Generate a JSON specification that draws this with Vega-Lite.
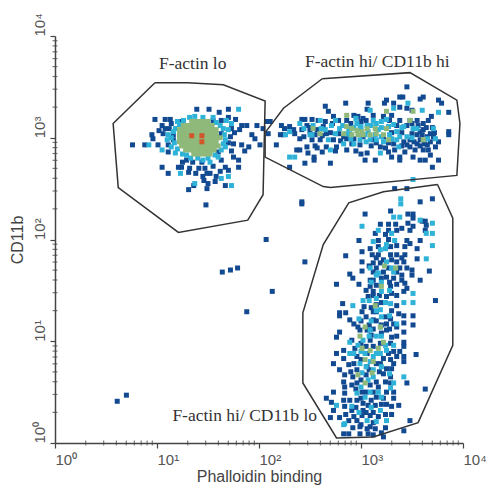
{"$schema":"https://vega.github.io/schema/vega-lite/v6.json","width":408,"height":407,"autosize":"none","padding":{"left":55,"top":36,"right":26,"bottom":44},"background":"white","config":{"view":{"stroke":null}},
"datasets":{
"minor":[{"v":0.301},{"v":0.477},{"v":0.602},{"v":0.699},{"v":0.778},{"v":0.845},{"v":0.903},{"v":0.954},{"v":1.301},{"v":1.477},{"v":1.602},{"v":1.699},{"v":1.778},{"v":1.845},{"v":1.903},{"v":1.954},{"v":2.301},{"v":2.477},{"v":2.602},{"v":2.699},{"v":2.778},{"v":2.845},{"v":2.903},{"v":2.954},{"v":3.301},{"v":3.477},{"v":3.602},{"v":3.699},{"v":3.778},{"v":3.845},{"v":3.903},{"v":3.954}],
"gates":[
{"g":"lo","o":1,"x":0.98,"y":3.54},{"g":"lo","o":2,"x":1.30,"y":3.54},{"g":"lo","o":3,"x":1.65,"y":3.52},{"g":"lo","o":4,"x":2.06,"y":3.36},{"g":"lo","o":5,"x":2.04,"y":2.44},{"g":"lo","o":6,"x":1.89,"y":2.19},{"g":"lo","o":7,"x":1.21,"y":2.07},{"g":"lo","o":8,"x":0.62,"y":2.51},{"g":"lo","o":9,"x":0.57,"y":3.14},{"g":"lo","o":10,"x":0.98,"y":3.54},
{"g":"hihi","o":1,"x":2.62,"y":3.58},{"g":"hihi","o":2,"x":3.48,"y":3.64},{"g":"hihi","o":3,"x":3.94,"y":3.37},{"g":"hihi","o":4,"x":3.97,"y":3.14},{"g":"hihi","o":5,"x":3.94,"y":2.63},{"g":"hihi","o":6,"x":2.70,"y":2.51},{"g":"hihi","o":7,"x":2.63,"y":2.52},{"g":"hihi","o":8,"x":2.06,"y":2.81},{"g":"hihi","o":9,"x":2.06,"y":3.05},{"g":"hihi","o":10,"x":2.24,"y":3.29},{"g":"hihi","o":11,"x":2.62,"y":3.58},
{"g":"hilo","o":1,"x":3.75,"y":2.54},{"g":"hilo","o":2,"x":3.90,"y":2.21},{"g":"hilo","o":3,"x":3.90,"y":0.96},{"g":"hilo","o":4,"x":3.56,"y":0.20},{"g":"hilo","o":5,"x":3.12,"y":0.06},{"g":"hilo","o":6,"x":2.76,"y":0.05},{"g":"hilo","o":7,"x":2.43,"y":0.59},{"g":"hilo","o":8,"x":2.43,"y":1.28},{"g":"hilo","o":9,"x":2.63,"y":1.95},{"g":"hilo","o":10,"x":2.88,"y":2.36},{"g":"hilo","o":11,"x":3.22,"y":2.47},{"g":"hilo","o":12,"x":3.75,"y":2.54}],
"labels":[{"t":"F-actin lo","x":1.35,"y":3.72},{"t":"F-actin hi/ CD11b hi","x":3.16,"y":3.74},{"t":"F-actin hi/ CD11b lo","x":1.86,"y":0.27}],
"points":[
{"x":1.05,"y":3.12,"c":"low"},{"x":1.02,"y":3.07,"c":"low"},{"x":1.12,"y":3.09,"c":"low"},{"x":1.35,"y":2.76,"c":"low"},{"x":1.38,"y":2.65,"c":"low"},{"x":1.55,"y":2.72,"c":"low"},{"x":1.25,"y":2.76,"c":"low"},{"x":1.47,"y":2.70,"c":"low"},{"x":1.58,"y":2.62,"c":"low"},{"x":1.45,"y":2.62,"c":"low"},{"x":1.70,"y":2.95,"c":"low"},{"x":1.76,"y":3.05,"c":"low"},{"x":1.75,"y":2.94,"c":"low"},{"x":1.70,"y":3.20,"c":"low"},{"x":1.77,"y":3.18,"c":"low"},
{"x":2.50,"y":3.10,"c":"low"},{"x":2.55,"y":3.03,"c":"low"},{"x":2.62,"y":3.02,"c":"low"},{"x":2.70,"y":3.05,"c":"low"},{"x":2.72,"y":3.14,"c":"low"},{"x":2.78,"y":3.04,"c":"low"},{"x":2.80,"y":2.97,"c":"low"},{"x":2.86,"y":2.99,"c":"low"},{"x":2.90,"y":3.14,"c":"low"},{"x":3.00,"y":3.16,"c":"low"},{"x":3.05,"y":3.17,"c":"low"},{"x":3.10,"y":2.92,"c":"low"},{"x":3.15,"y":2.95,"c":"low"},{"x":3.19,"y":2.91,"c":"low"},{"x":3.27,"y":2.95,"c":"low"},{"x":3.30,"y":3.05,"c":"low"},{"x":3.35,"y":3.12,"c":"low"},{"x":3.40,"y":3.05,"c":"low"},{"x":3.40,"y":2.92,"c":"low"},{"x":3.45,"y":3.12,"c":"low"},{"x":3.50,"y":3.04,"c":"low"},{"x":3.52,"y":2.96,"c":"low"},{"x":3.58,"y":2.92,"c":"low"},{"x":3.60,"y":3.03,"c":"low"},{"x":3.64,"y":3.10,"c":"low"},{"x":3.70,"y":3.10,"c":"low"},{"x":3.72,"y":3.05,"c":"low"},{"x":3.62,"y":2.94,"c":"low"},{"x":3.66,"y":2.88,"c":"low"},{"x":3.56,"y":3.12,"c":"low"},{"x":3.28,"y":3.17,"c":"low"},{"x":2.55,"y":2.92,"c":"low"},{"x":2.62,"y":2.86,"c":"low"},{"x":2.75,"y":2.87,"c":"low"},{"x":2.95,"y":2.87,"c":"low"},{"x":3.00,"y":2.84,"c":"low"},{"x":3.45,"y":2.93,"c":"low"},{"x":3.50,"y":3.14,"c":"low"},
{"x":3.24,"y":2.05,"c":"low"},{"x":3.40,"y":2.11,"c":"low"},{"x":3.15,"y":1.82,"c":"low"},{"x":3.22,"y":1.80,"c":"low"},{"x":3.30,"y":1.80,"c":"low"},{"x":3.40,"y":1.82,"c":"low"},{"x":3.08,"y":1.74,"c":"low"},{"x":3.15,"y":1.72,"c":"low"},{"x":3.22,"y":1.68,"c":"low"},{"x":3.35,"y":1.68,"c":"low"},{"x":3.40,"y":1.65,"c":"low"},{"x":3.28,"y":1.58,"c":"low"},{"x":3.35,"y":1.56,"c":"low"},{"x":3.15,"y":1.55,"c":"low"},{"x":3.20,"y":1.62,"c":"low"},{"x":3.40,"y":1.60,"c":"low"},{"x":3.05,"y":1.50,"c":"low"},{"x":3.18,"y":1.45,"c":"low"},{"x":3.25,"y":1.44,"c":"low"},{"x":3.30,"y":1.47,"c":"low"},{"x":3.15,"y":1.36,"c":"low"},{"x":3.20,"y":1.38,"c":"low"},{"x":3.10,"y":1.33,"c":"low"},{"x":3.30,"y":1.30,"c":"low"},{"x":3.35,"y":1.35,"c":"low"},{"x":3.05,"y":1.24,"c":"low"},{"x":3.15,"y":1.20,"c":"low"},{"x":3.25,"y":1.17,"c":"low"},{"x":3.08,"y":1.16,"c":"low"},{"x":3.00,"y":1.20,"c":"low"},{"x":3.12,"y":1.12,"c":"low"},{"x":3.28,"y":1.12,"c":"low"},{"x":3.20,"y":1.08,"c":"low"},{"x":3.10,"y":1.06,"c":"low"},{"x":3.30,"y":1.04,"c":"low"},{"x":3.00,"y":0.98,"c":"low"},{"x":3.05,"y":0.95,"c":"low"},{"x":3.12,"y":0.95,"c":"low"},{"x":3.27,"y":0.88,"c":"low"},{"x":3.32,"y":0.90,"c":"low"},{"x":3.00,"y":0.82,"c":"low"},{"x":3.15,"y":0.78,"c":"low"},{"x":3.22,"y":0.83,"c":"low"},{"x":3.08,"y":0.72,"c":"low"},{"x":3.18,"y":0.70,"c":"low"},{"x":3.30,"y":0.73,"c":"low"},{"x":2.90,"y":0.70,"c":"low"},{"x":2.92,"y":0.65,"c":"low"},{"x":3.00,"y":0.62,"c":"low"},{"x":3.05,"y":0.67,"c":"low"},{"x":3.15,"y":0.60,"c":"low"},{"x":3.24,"y":0.60,"c":"low"},{"x":2.95,"y":0.53,"c":"low"},{"x":3.05,"y":0.50,"c":"low"},{"x":3.12,"y":0.50,"c":"low"},{"x":3.25,"y":0.50,"c":"low"},{"x":3.00,"y":0.44,"c":"low"},{"x":3.10,"y":0.42,"c":"low"},{"x":3.20,"y":0.38,"c":"low"},{"x":3.25,"y":0.38,"c":"low"},{"x":2.95,"y":0.35,"c":"low"},{"x":3.05,"y":0.30,"c":"low"},{"x":3.12,"y":0.30,"c":"low"},{"x":3.24,"y":0.28,"c":"low"},{"x":3.30,"y":0.28,"c":"low"},{"x":2.85,"y":0.28,"c":"low"},{"x":3.00,"y":0.18,"c":"low"},{"x":3.12,"y":0.20,"c":"low"},{"x":2.92,"y":0.15,"c":"low"},{"x":3.20,"y":0.10,"c":"low"},
{"x":0.61,"y":0.41,"c":"low"},{"x":0.70,"y":0.47,"c":"low"},{"x":2.07,"y":2.00,"c":"low"},{"x":2.13,"y":1.49,"c":"low"},{"x":1.88,"y":1.29,"c":"low"},{"x":1.64,"y":1.68,"c":"low"},{"x":1.72,"y":1.70,"c":"low"},{"x":1.79,"y":1.72,"c":"low"},
{"x":0.76,"y":2.93,"c":"low"},{"x":0.88,"y":2.93,"c":"low"},{"x":0.98,"y":3.18,"c":"low"},{"x":1.08,"y":3.18,"c":"low"},{"x":1.13,"y":3.18,"c":"low"},{"x":1.14,"y":3.14,"c":"low"},{"x":1.08,"y":3.09,"c":"low"},{"x":1.06,"y":3.04,"c":"low"},{"x":0.95,"y":3.03,"c":"low"},{"x":0.96,"y":2.99,"c":"low"},{"x":1.01,"y":2.93,"c":"low"},{"x":1.11,"y":2.86,"c":"low"},{"x":1.11,"y":2.93,"c":"low"},{"x":1.39,"y":3.28,"c":"low"},{"x":1.51,"y":3.28,"c":"low"},{"x":1.61,"y":3.25,"c":"low"},{"x":1.70,"y":3.28,"c":"low"},{"x":1.63,"y":3.17,"c":"low"},{"x":1.55,"y":3.17,"c":"low"},{"x":1.24,"y":3.16,"c":"low"},{"x":1.73,"y":3.09,"c":"low"},{"x":1.83,"y":3.12,"c":"low"},{"x":1.88,"y":3.12,"c":"low"},{"x":1.98,"y":3.12,"c":"low"},{"x":2.04,"y":3.09,"c":"low"},{"x":2.09,"y":3.16,"c":"low"},{"x":1.93,"y":3.03,"c":"low"},{"x":1.96,"y":2.99,"c":"low"},{"x":1.83,"y":2.93,"c":"low"},{"x":1.90,"y":2.91,"c":"low"},{"x":1.86,"y":2.87,"c":"low"},{"x":1.73,"y":2.87,"c":"low"},{"x":1.75,"y":2.81,"c":"low"},{"x":1.63,"y":2.78,"c":"low"},{"x":1.80,"y":2.78,"c":"low"},{"x":1.80,"y":2.71,"c":"low"},{"x":1.67,"y":2.71,"c":"low"},{"x":1.70,"y":2.68,"c":"low"},{"x":1.62,"y":2.67,"c":"low"},{"x":1.52,"y":2.65,"c":"low"},{"x":1.49,"y":2.65,"c":"low"},{"x":1.44,"y":2.76,"c":"low"},{"x":1.41,"y":2.70,"c":"low"},{"x":1.32,"y":2.70,"c":"low"},{"x":1.24,"y":2.71,"c":"low"},{"x":1.21,"y":2.71,"c":"low"},{"x":1.29,"y":2.78,"c":"low"},{"x":1.05,"y":2.71,"c":"low"},{"x":1.11,"y":2.65,"c":"low"},{"x":1.31,"y":2.66,"c":"low"},{"x":1.46,"y":2.58,"c":"low"},{"x":1.50,"y":2.55,"c":"low"},{"x":1.57,"y":2.57,"c":"low"},{"x":1.49,"y":2.50,"c":"low"},{"x":1.31,"y":2.49,"c":"low"},{"x":1.36,"y":2.53,"c":"low"},{"x":1.67,"y":2.53,"c":"low"},{"x":1.48,"y":2.34,"c":"low"},{"x":1.60,"y":2.86,"c":"low"},{"x":1.16,"y":2.98,"c":"low"},{"x":1.16,"y":3.03,"c":"low"},{"x":1.63,"y":3.04,"c":"low"},{"x":1.72,"y":3.01,"c":"low"},{"x":2.01,"y":2.93,"c":"low"},{"x":1.81,"y":3.08,"c":"low"},
{"x":3.45,"y":3.50,"c":"low"},{"x":3.41,"y":3.40,"c":"low"},{"x":3.38,"y":3.40,"c":"low"},{"x":3.61,"y":3.40,"c":"low"},{"x":3.58,"y":3.38,"c":"low"},{"x":3.76,"y":3.37,"c":"low"},{"x":3.79,"y":3.34,"c":"low"},{"x":3.25,"y":3.37,"c":"low"},{"x":3.23,"y":3.34,"c":"low"},{"x":3.32,"y":3.34,"c":"low"},{"x":3.07,"y":3.34,"c":"low"},{"x":2.85,"y":3.34,"c":"low"},{"x":2.65,"y":3.31,"c":"low"},{"x":2.68,"y":3.26,"c":"low"},{"x":3.06,"y":3.28,"c":"low"},{"x":3.38,"y":3.30,"c":"low"},{"x":3.45,"y":3.29,"c":"low"},{"x":3.50,"y":3.27,"c":"low"},{"x":3.86,"y":3.25,"c":"low"},{"x":3.69,"y":3.21,"c":"low"},{"x":3.66,"y":3.17,"c":"low"},{"x":2.93,"y":3.22,"c":"low"},{"x":2.97,"y":3.21,"c":"low"},{"x":2.73,"y":3.21,"c":"low"},{"x":2.78,"y":3.17,"c":"low"},{"x":2.42,"y":3.18,"c":"low"},{"x":2.45,"y":3.18,"c":"low"},{"x":2.52,"y":3.18,"c":"low"},{"x":2.58,"y":3.17,"c":"low"},{"x":2.65,"y":3.16,"c":"low"},{"x":2.08,"y":3.16,"c":"low"},{"x":2.11,"y":3.16,"c":"low"},{"x":2.22,"y":3.12,"c":"low"},{"x":2.25,"y":3.09,"c":"low"},{"x":2.30,"y":3.11,"c":"low"},{"x":2.34,"y":3.08,"c":"low"},{"x":2.09,"y":3.04,"c":"low"},{"x":2.21,"y":3.03,"c":"low"},{"x":2.24,"y":3.03,"c":"low"},{"x":2.35,"y":3.04,"c":"low"},{"x":2.40,"y":2.99,"c":"low"},{"x":2.44,"y":3.01,"c":"low"},{"x":2.50,"y":3.06,"c":"low"},{"x":2.57,"y":3.08,"c":"low"},{"x":2.63,"y":3.11,"c":"low"},{"x":2.17,"y":2.93,"c":"low"},{"x":2.37,"y":2.88,"c":"low"},{"x":2.40,"y":2.88,"c":"low"},{"x":2.48,"y":2.85,"c":"low"},{"x":2.54,"y":2.81,"c":"low"},{"x":2.54,"y":2.78,"c":"low"},{"x":2.70,"y":2.75,"c":"low"},{"x":2.45,"y":2.75,"c":"low"},{"x":2.30,"y":2.71,"c":"low"},{"x":2.86,"y":2.88,"c":"low"},{"x":2.91,"y":2.94,"c":"low"},{"x":2.99,"y":2.93,"c":"low"},{"x":3.04,"y":2.78,"c":"low"},{"x":3.14,"y":2.78,"c":"low"},{"x":3.06,"y":2.85,"c":"low"},{"x":3.24,"y":2.90,"c":"low"},{"x":3.27,"y":2.86,"c":"low"},{"x":3.30,"y":2.81,"c":"low"},{"x":3.38,"y":2.81,"c":"low"},{"x":3.38,"y":2.78,"c":"low"},{"x":3.51,"y":2.81,"c":"low"},{"x":3.58,"y":2.78,"c":"low"},{"x":3.63,"y":2.78,"c":"low"},{"x":3.68,"y":2.83,"c":"low"},{"x":3.76,"y":2.78,"c":"low"},{"x":3.70,"y":2.71,"c":"low"},{"x":3.86,"y":3.06,"c":"low"},{"x":3.86,"y":3.03,"c":"low"},{"x":3.76,"y":2.96,"c":"low"},{"x":3.73,"y":2.91,"c":"low"},{"x":3.65,"y":2.93,"c":"low"},{"x":3.58,"y":2.98,"c":"low"},{"x":3.55,"y":3.03,"c":"low"},{"x":3.61,"y":3.08,"c":"low"},{"x":3.68,"y":3.04,"c":"low"},{"x":3.48,"y":2.91,"c":"low"},{"x":3.42,"y":2.96,"c":"low"},{"x":3.32,"y":2.94,"c":"low"},{"x":3.22,"y":3.01,"c":"low"},{"x":3.12,"y":2.98,"c":"low"},{"x":3.02,"y":3.01,"c":"low"},{"x":2.93,"y":2.99,"c":"low"},{"x":2.83,"y":3.01,"c":"low"},{"x":2.73,"y":2.98,"c":"low"},{"x":2.66,"y":3.04,"c":"low"},{"x":2.60,"y":2.98,"c":"low"},{"x":2.52,"y":2.98,"c":"low"},{"x":3.61,"y":3.14,"c":"low"},{"x":3.55,"y":3.17,"c":"low"},{"x":3.48,"y":3.17,"c":"low"},{"x":3.38,"y":3.17,"c":"low"},{"x":3.30,"y":3.22,"c":"low"},{"x":3.22,"y":3.21,"c":"low"},{"x":3.12,"y":3.22,"c":"low"},{"x":3.02,"y":3.19,"c":"low"},{"x":2.86,"y":3.17,"c":"low"},{"x":3.58,"y":3.06,"c":"low"},{"x":3.65,"y":3.01,"c":"low"},{"x":3.71,"y":3.01,"c":"low"},{"x":3.55,"y":2.94,"c":"low"},{"x":3.61,"y":2.88,"c":"low"},{"x":3.68,"y":2.96,"c":"low"},{"x":3.48,"y":2.98,"c":"low"},{"x":3.53,"y":2.88,"c":"low"},{"x":3.43,"y":2.86,"c":"low"},{"x":3.33,"y":2.88,"c":"low"},{"x":2.47,"y":3.12,"c":"low"},{"x":2.42,"y":3.08,"c":"low"},{"x":2.47,"y":2.91,"c":"low"},{"x":2.57,"y":2.90,"c":"low"},{"x":2.76,"y":2.91,"c":"low"},{"x":2.66,"y":2.91,"c":"low"},
{"x":2.42,"y":2.37,"c":"low"},{"x":2.42,"y":2.35,"c":"low"},{"x":2.45,"y":1.78,"c":"low"},{"x":3.04,"y":2.25,"c":"low"},{"x":3.29,"y":2.28,"c":"low"},{"x":3.58,"y":2.37,"c":"low"},{"x":3.70,"y":2.40,"c":"low"},{"x":3.33,"y":2.50,"c":"low"},{"x":3.45,"y":2.50,"c":"low"},{"x":3.46,"y":2.25,"c":"low"},{"x":3.51,"y":2.25,"c":"low"},{"x":3.51,"y":2.21,"c":"low"},{"x":3.60,"y":2.18,"c":"low"},{"x":3.63,"y":2.18,"c":"low"},{"x":3.64,"y":2.14,"c":"low"},{"x":3.63,"y":2.09,"c":"low"},{"x":3.19,"y":2.15,"c":"low"},{"x":3.27,"y":2.15,"c":"low"},{"x":3.34,"y":2.15,"c":"low"},{"x":3.46,"y":2.16,"c":"low"},{"x":3.51,"y":2.13,"c":"low"},{"x":3.48,"y":2.09,"c":"low"},{"x":3.14,"y":2.06,"c":"low"},{"x":3.27,"y":2.09,"c":"low"},{"x":3.35,"y":2.09,"c":"low"},{"x":2.98,"y":1.99,"c":"low"},{"x":3.17,"y":1.99,"c":"low"},{"x":3.27,"y":2.00,"c":"low"},{"x":3.58,"y":1.99,"c":"low"},{"x":3.45,"y":1.99,"c":"low"},{"x":3.48,"y":1.96,"c":"low"},{"x":3.09,"y":1.91,"c":"low"},{"x":3.17,"y":1.93,"c":"low"},{"x":3.29,"y":1.93,"c":"low"},{"x":3.35,"y":1.94,"c":"low"},{"x":3.43,"y":1.93,"c":"low"},{"x":3.01,"y":1.88,"c":"low"},{"x":2.85,"y":1.84,"c":"low"},{"x":3.01,"y":1.78,"c":"low"},{"x":3.11,"y":1.85,"c":"low"},{"x":3.17,"y":1.85,"c":"low"},{"x":3.29,"y":1.85,"c":"low"},{"x":3.35,"y":1.85,"c":"low"},{"x":3.43,"y":1.85,"c":"low"},{"x":3.55,"y":1.91,"c":"low"},{"x":3.55,"y":1.81,"c":"low"},{"x":3.12,"y":1.77,"c":"low"},{"x":3.19,"y":1.77,"c":"low"},{"x":3.35,"y":1.78,"c":"low"},{"x":3.42,"y":1.78,"c":"low"},{"x":3.01,"y":1.69,"c":"low"},{"x":3.12,"y":1.68,"c":"low"},{"x":3.27,"y":1.72,"c":"low"},{"x":3.38,"y":1.72,"c":"low"},{"x":3.45,"y":1.72,"c":"low"},{"x":3.50,"y":1.70,"c":"low"},{"x":3.67,"y":1.69,"c":"low"},{"x":2.89,"y":1.66,"c":"low"},{"x":2.92,"y":1.62,"c":"low"},{"x":2.76,"y":1.56,"c":"low"},{"x":2.98,"y":1.56,"c":"low"},{"x":3.09,"y":1.60,"c":"low"},{"x":3.12,"y":1.60,"c":"low"},{"x":3.25,"y":1.63,"c":"low"},{"x":3.32,"y":1.62,"c":"low"},{"x":3.50,"y":1.65,"c":"low"},{"x":3.58,"y":1.60,"c":"low"},{"x":3.43,"y":1.57,"c":"low"},{"x":3.09,"y":1.54,"c":"low"},{"x":3.12,"y":1.49,"c":"low"},{"x":3.29,"y":1.54,"c":"low"},{"x":3.45,"y":1.52,"c":"low"},{"x":3.07,"y":1.44,"c":"low"},{"x":3.12,"y":1.45,"c":"low"},{"x":3.35,"y":1.45,"c":"low"},{"x":3.42,"y":1.49,"c":"low"},{"x":3.73,"y":1.40,"c":"low"},{"x":2.82,"y":1.37,"c":"low"},{"x":3.03,"y":1.34,"c":"low"},{"x":3.01,"y":1.29,"c":"low"},{"x":2.79,"y":1.28,"c":"low"},{"x":2.79,"y":1.25,"c":"low"},{"x":2.85,"y":1.28,"c":"low"},{"x":3.12,"y":1.29,"c":"low"},{"x":3.15,"y":1.29,"c":"low"},{"x":3.51,"y":1.25,"c":"low"},{"x":3.42,"y":1.25,"c":"low"},{"x":2.89,"y":1.21,"c":"low"},{"x":2.93,"y":1.17,"c":"low"},{"x":2.97,"y":1.14,"c":"low"},{"x":3.12,"y":1.21,"c":"low"},{"x":3.24,"y":1.24,"c":"low"},{"x":3.29,"y":1.22,"c":"low"},{"x":3.37,"y":1.27,"c":"low"},{"x":3.51,"y":1.16,"c":"low"},{"x":3.42,"y":1.18,"c":"low"},{"x":3.32,"y":1.17,"c":"low"},{"x":3.20,"y":1.16,"c":"low"},{"x":3.06,"y":1.11,"c":"low"},
{"x":3.42,"y":1.09,"c":"low"},{"x":2.79,"y":1.09,"c":"low"},{"x":2.76,"y":1.04,"c":"low"},{"x":3.35,"y":1.05,"c":"low"},{"x":3.42,"y":0.99,"c":"low"},{"x":3.42,"y":0.95,"c":"low"},{"x":3.38,"y":0.90,"c":"low"},{"x":3.54,"y":0.87,"c":"low"},{"x":2.83,"y":0.91,"c":"low"},{"x":2.76,"y":0.88,"c":"low"},{"x":2.73,"y":0.78,"c":"low"},{"x":2.83,"y":0.83,"c":"low"},{"x":3.42,"y":0.85,"c":"low"},{"x":3.42,"y":0.80,"c":"low"},{"x":2.91,"y":1.01,"c":"low"},{"x":2.94,"y":0.93,"c":"low"},{"x":2.88,"y":0.77,"c":"low"},{"x":2.93,"y":0.78,"c":"low"},{"x":2.79,"y":0.72,"c":"low"},{"x":2.84,"y":0.67,"c":"low"},{"x":2.83,"y":0.60,"c":"low"},{"x":2.84,"y":0.55,"c":"low"},{"x":3.35,"y":0.85,"c":"low"},{"x":3.32,"y":0.78,"c":"low"},{"x":3.25,"y":0.73,"c":"low"},{"x":3.22,"y":0.68,"c":"low"},{"x":3.29,"y":0.65,"c":"low"},{"x":3.45,"y":0.59,"c":"low"},{"x":3.63,"y":0.53,"c":"low"},{"x":2.91,"y":0.57,"c":"low"},{"x":2.96,"y":0.59,"c":"low"},{"x":2.73,"y":0.50,"c":"low"},{"x":2.66,"y":0.44,"c":"low"},{"x":2.71,"y":0.40,"c":"low"},{"x":2.73,"y":0.32,"c":"low"},{"x":2.84,"y":0.49,"c":"low"},{"x":2.83,"y":0.42,"c":"low"},{"x":2.84,"y":0.36,"c":"low"},{"x":2.89,"y":0.42,"c":"low"},{"x":3.01,"y":0.50,"c":"low"},{"x":3.09,"y":0.57,"c":"low"},{"x":3.17,"y":0.55,"c":"low"},{"x":3.29,"y":0.59,"c":"low"},{"x":3.32,"y":0.50,"c":"low"},{"x":3.22,"y":0.44,"c":"low"},{"x":3.32,"y":0.44,"c":"low"},{"x":3.37,"y":0.37,"c":"low"},{"x":3.30,"y":0.36,"c":"low"},{"x":3.14,"y":0.37,"c":"low"},{"x":3.02,"y":0.32,"c":"low"},{"x":2.91,"y":0.32,"c":"low"},{"x":2.70,"y":0.25,"c":"low"},{"x":2.79,"y":0.25,"c":"low"},{"x":2.88,"y":0.22,"c":"low"},{"x":2.96,"y":0.22,"c":"low"},{"x":3.06,"y":0.14,"c":"low"},{"x":2.99,"y":0.16,"c":"low"},{"x":3.09,"y":0.16,"c":"low"},{"x":3.14,"y":0.14,"c":"low"},{"x":3.24,"y":0.15,"c":"low"},{"x":3.48,"y":0.22,"c":"low"},{"x":3.42,"y":0.12,"c":"low"},{"x":2.83,"y":0.09,"c":"low"},{"x":2.88,"y":0.09,"c":"low"},{"x":2.99,"y":0.09,"c":"low"},{"x":3.07,"y":0.09,"c":"low"},{"x":3.22,"y":0.06,"c":"low"},{"x":3.12,"y":0.08,"c":"low"},{"x":3.01,"y":0.27,"c":"low"},{"x":2.93,"y":0.26,"c":"low"},{"x":3.02,"y":0.39,"c":"low"},{"x":2.96,"y":0.42,"c":"low"},{"x":3.09,"y":0.27,"c":"low"},{"x":3.17,"y":0.26,"c":"low"},{"x":3.07,"y":0.37,"c":"low"},{"x":3.15,"y":0.45,"c":"low"},{"x":2.96,"y":0.72,"c":"low"},{"x":3.06,"y":0.75,"c":"low"},{"x":3.19,"y":0.78,"c":"low"},{"x":3.29,"y":0.82,"c":"low"},{"x":2.96,"y":0.85,"c":"low"},{"x":3.06,"y":0.88,"c":"low"},{"x":3.19,"y":0.98,"c":"low"},{"x":3.29,"y":0.98,"c":"low"},{"x":2.99,"y":1.11,"c":"low"},{"x":3.25,"y":1.11,"c":"low"},{"x":3.09,"y":1.01,"c":"low"},{"x":3.35,"y":1.14,"c":"low"},
{"x":1.80,"y":3.28,"c":"mid"},{"x":0.92,"y":2.93,"c":"mid"},{"x":1.05,"y":2.88,"c":"mid"},{"x":1.23,"y":2.65,"c":"mid"},{"x":1.70,"y":2.62,"c":"mid"},{"x":1.73,"y":2.53,"c":"mid"},{"x":1.37,"y":2.55,"c":"mid"},{"x":1.63,"y":2.60,"c":"mid"},{"x":1.68,"y":3.17,"c":"mid"},{"x":1.73,"y":3.14,"c":"mid"},{"x":1.26,"y":3.17,"c":"mid"},{"x":1.37,"y":3.21,"c":"mid"},{"x":1.18,"y":3.09,"c":"mid"},{"x":1.11,"y":3.03,"c":"mid"},{"x":1.10,"y":2.98,"c":"mid"},{"x":1.14,"y":2.91,"c":"mid"},{"x":1.18,"y":2.85,"c":"mid"},{"x":1.29,"y":2.83,"c":"mid"},{"x":1.45,"y":2.78,"c":"mid"},{"x":1.52,"y":2.76,"c":"mid"},{"x":1.67,"y":2.91,"c":"mid"},{"x":1.67,"y":2.98,"c":"mid"},{"x":1.65,"y":3.09,"c":"mid"},{"x":1.70,"y":3.08,"c":"mid"},{"x":1.22,"y":3.13,"c":"mid"},{"x":1.60,"y":2.81,"c":"mid"},
{"x":1.16,"y":3.06,"c":"mid"},{"x":1.14,"y":3.00,"c":"mid"},{"x":1.17,"y":2.95,"c":"mid"},{"x":1.20,"y":2.89,"c":"mid"},{"x":1.25,"y":2.84,"c":"mid"},{"x":1.33,"y":2.80,"c":"mid"},{"x":1.40,"y":2.80,"c":"mid"},{"x":1.50,"y":2.80,"c":"mid"},{"x":1.57,"y":2.83,"c":"mid"},{"x":1.63,"y":2.88,"c":"mid"},{"x":1.65,"y":2.94,"c":"mid"},{"x":1.66,"y":3.03,"c":"mid"},{"x":1.62,"y":3.12,"c":"mid"},{"x":1.58,"y":3.15,"c":"mid"},{"x":1.55,"y":3.20,"c":"mid"},{"x":1.45,"y":3.20,"c":"mid"},{"x":1.32,"y":3.20,"c":"mid"},{"x":1.20,"y":3.16,"c":"mid"},
{"x":3.51,"y":2.59,"c":"mid"},{"x":2.30,"y":2.81,"c":"mid"},{"x":2.35,"y":2.81,"c":"mid"},{"x":2.70,"y":2.88,"c":"mid"},{"x":3.19,"y":2.85,"c":"mid"},{"x":3.60,"y":3.27,"c":"mid"},{"x":3.46,"y":3.34,"c":"mid"},{"x":3.76,"y":3.25,"c":"mid"},{"x":3.32,"y":3.29,"c":"mid"},{"x":3.09,"y":3.27,"c":"mid"},{"x":3.71,"y":3.09,"c":"mid"},{"x":3.73,"y":2.99,"c":"mid"},{"x":3.37,"y":2.91,"c":"mid"},{"x":3.45,"y":3.01,"c":"mid"},{"x":3.27,"y":3.11,"c":"mid"},{"x":3.15,"y":3.14,"c":"mid"},{"x":3.06,"y":3.12,"c":"mid"},{"x":2.96,"y":3.14,"c":"mid"},{"x":2.88,"y":3.09,"c":"mid"},{"x":2.79,"y":3.09,"c":"mid"},{"x":2.75,"y":3.04,"c":"mid"},{"x":2.83,"y":2.94,"c":"mid"},{"x":2.99,"y":2.98,"c":"mid"},{"x":3.14,"y":3.03,"c":"mid"},{"x":3.22,"y":2.96,"c":"mid"},{"x":3.09,"y":2.98,"c":"mid"},{"x":2.40,"y":3.14,"c":"mid"},{"x":2.44,"y":3.09,"c":"mid"},{"x":2.53,"y":3.12,"c":"mid"},{"x":2.60,"y":3.17,"c":"mid"},{"x":2.30,"y":3.06,"c":"mid"},{"x":2.26,"y":3.03,"c":"mid"},{"x":3.42,"y":3.11,"c":"mid"},{"x":3.51,"y":3.09,"c":"mid"},{"x":3.65,"y":2.99,"c":"mid"},{"x":3.12,"y":3.17,"c":"mid"},{"x":3.20,"y":3.16,"c":"mid"},{"x":3.35,"y":3.06,"c":"mid"},{"x":2.93,"y":2.94,"c":"mid"},{"x":2.89,"y":3.04,"c":"mid"},{"x":2.99,"y":3.09,"c":"mid"},{"x":3.07,"y":3.06,"c":"mid"},{"x":2.52,"y":3.03,"c":"mid"},{"x":2.61,"y":3.09,"c":"mid"},{"x":2.71,"y":3.12,"c":"mid"},{"x":2.68,"y":2.98,"c":"mid"},
{"x":2.50,"y":3.03,"c":"mid"},{"x":2.65,"y":3.08,"c":"mid"},{"x":2.82,"y":3.12,"c":"mid"},{"x":2.86,"y":3.04,"c":"mid"},{"x":2.93,"y":3.10,"c":"mid"},{"x":3.00,"y":3.11,"c":"mid"},{"x":3.04,"y":3.03,"c":"mid"},{"x":3.10,"y":3.12,"c":"mid"},{"x":3.17,"y":3.08,"c":"mid"},{"x":3.20,"y":3.10,"c":"mid"},{"x":3.20,"y":3.01,"c":"mid"},{"x":3.28,"y":3.03,"c":"mid"},{"x":3.32,"y":3.13,"c":"mid"},{"x":3.38,"y":3.01,"c":"mid"},{"x":3.40,"y":3.10,"c":"mid"},{"x":3.50,"y":3.00,"c":"mid"},{"x":3.55,"y":3.09,"c":"mid"},{"x":2.90,"y":2.99,"c":"mid"},{"x":3.05,"y":2.96,"c":"mid"},{"x":3.15,"y":2.98,"c":"mid"},{"x":3.30,"y":2.99,"c":"mid"},{"x":3.35,"y":2.98,"c":"mid"},{"x":2.75,"y":3.17,"c":"mid"},{"x":2.95,"y":3.19,"c":"mid"},{"x":3.25,"y":3.18,"c":"mid"},
{"x":3.39,"y":2.40,"c":"mid"},{"x":3.39,"y":2.35,"c":"mid"},{"x":3.32,"y":2.22,"c":"mid"},{"x":3.38,"y":2.22,"c":"mid"},{"x":3.01,"y":2.13,"c":"mid"},{"x":3.58,"y":2.19,"c":"mid"},{"x":3.70,"y":2.16,"c":"mid"},{"x":3.64,"y":2.06,"c":"mid"},{"x":3.70,"y":2.06,"c":"mid"},{"x":3.70,"y":1.94,"c":"mid"},{"x":3.64,"y":1.81,"c":"mid"},{"x":3.17,"y":2.09,"c":"mid"},{"x":3.30,"y":2.06,"c":"mid"},{"x":3.33,"y":1.99,"c":"mid"},{"x":3.19,"y":1.90,"c":"mid"},{"x":3.24,"y":1.91,"c":"mid"},{"x":3.25,"y":1.78,"c":"mid"},{"x":3.09,"y":1.72,"c":"mid"},{"x":3.17,"y":1.67,"c":"mid"},{"x":3.32,"y":1.68,"c":"mid"},{"x":3.10,"y":1.58,"c":"mid"},{"x":3.20,"y":1.49,"c":"mid"},{"x":3.51,"y":1.47,"c":"mid"},{"x":3.02,"y":1.40,"c":"mid"},{"x":2.92,"y":1.35,"c":"mid"},{"x":3.24,"y":1.38,"c":"mid"},{"x":3.42,"y":1.38,"c":"mid"},{"x":3.51,"y":1.38,"c":"mid"},{"x":3.29,"y":1.37,"c":"mid"},{"x":3.19,"y":1.31,"c":"mid"},{"x":2.98,"y":1.22,"c":"mid"},{"x":3.35,"y":1.17,"c":"mid"},{"x":3.20,"y":1.24,"c":"mid"},{"x":3.15,"y":1.42,"c":"mid"},
{"x":3.12,"y":1.98,"c":"mid"},{"x":3.25,"y":1.95,"c":"mid"},{"x":3.30,"y":1.72,"c":"mid"},{"x":3.15,"y":1.65,"c":"mid"},{"x":3.20,"y":1.58,"c":"mid"},{"x":3.28,"y":1.50,"c":"mid"},{"x":3.08,"y":1.40,"c":"mid"},{"x":3.15,"y":1.30,"c":"mid"},{"x":3.28,"y":1.25,"c":"mid"},{"x":3.10,"y":1.20,"c":"mid"},{"x":3.20,"y":1.05,"c":"mid"},{"x":3.08,"y":1.05,"c":"mid"},{"x":3.00,"y":0.90,"c":"mid"},{"x":3.15,"y":0.88,"c":"mid"},{"x":3.05,"y":0.75,"c":"mid"},{"x":3.20,"y":0.75,"c":"mid"},{"x":3.28,"y":0.68,"c":"mid"},{"x":3.00,"y":0.55,"c":"mid"},{"x":3.20,"y":0.45,"c":"mid"},{"x":3.10,"y":0.35,"c":"mid"},{"x":2.98,"y":0.30,"c":"mid"},
{"x":2.89,"y":0.99,"c":"mid"},{"x":2.93,"y":0.88,"c":"mid"},{"x":2.99,"y":0.78,"c":"mid"},{"x":3.12,"y":0.85,"c":"mid"},{"x":3.19,"y":0.88,"c":"mid"},{"x":3.25,"y":0.91,"c":"mid"},{"x":3.02,"y":1.01,"c":"mid"},{"x":3.15,"y":1.05,"c":"mid"},{"x":3.09,"y":1.11,"c":"mid"},{"x":3.19,"y":1.14,"c":"mid"},{"x":3.01,"y":0.69,"c":"mid"},{"x":3.12,"y":0.65,"c":"mid"},{"x":3.07,"y":0.62,"c":"mid"},{"x":3.32,"y":0.59,"c":"mid"},{"x":3.42,"y":0.65,"c":"mid"},{"x":3.25,"y":0.22,"c":"mid"},{"x":2.83,"y":0.18,"c":"mid"},{"x":2.76,"y":0.37,"c":"mid"},{"x":3.09,"y":0.50,"c":"mid"},{"x":2.96,"y":0.49,"c":"mid"},{"x":2.91,"y":0.36,"c":"mid"},{"x":3.19,"y":0.32,"c":"mid"},{"x":3.29,"y":0.54,"c":"mid"},{"x":3.04,"y":0.88,"c":"mid"},{"x":3.09,"y":0.80,"c":"mid"},{"x":3.24,"y":0.96,"c":"mid"},{"x":3.32,"y":0.96,"c":"mid"},{"x":3.12,"y":0.72,"c":"mid"},{"x":2.89,"y":0.88,"c":"mid"},{"x":2.97,"y":0.96,"c":"mid"},{"x":2.84,"y":0.19,"c":"mid"},{"x":3.06,"y":0.22,"c":"mid"},{"x":3.15,"y":0.21,"c":"mid"},{"x":3.04,"y":0.45,"c":"mid"},{"x":3.17,"y":0.50,"c":"mid"},
{"x":2.86,"y":3.22,"c":"high"},{"x":3.25,"y":3.26,"c":"high"},{"x":3.51,"y":3.26,"c":"high"},{"x":2.86,"y":3.11,"c":"high"},{"x":2.91,"y":3.09,"c":"high"},{"x":2.96,"y":3.07,"c":"high"},{"x":3.01,"y":3.06,"c":"high"},{"x":3.06,"y":3.09,"c":"high"},{"x":3.09,"y":3.03,"c":"high"},{"x":3.15,"y":3.04,"c":"high"},{"x":3.22,"y":3.03,"c":"high"},{"x":3.25,"y":3.09,"c":"high"},{"x":3.27,"y":2.98,"c":"high"},{"x":2.91,"y":3.03,"c":"high"},{"x":2.97,"y":3.03,"c":"high"},{"x":3.02,"y":3.03,"c":"high"},{"x":2.53,"y":3.09,"c":"high"},{"x":2.60,"y":3.04,"c":"high"},{"x":3.61,"y":2.98,"c":"high"},{"x":3.48,"y":3.17,"c":"high"},{"x":2.83,"y":3.04,"c":"high"},{"x":3.14,"y":3.09,"c":"high"},
{"x":3.23,"y":1.74,"c":"high"},{"x":3.34,"y":1.72,"c":"high"},{"x":3.20,"y":1.54,"c":"high"},{"x":3.14,"y":1.35,"c":"high"},{"x":3.04,"y":1.14,"c":"high"},{"x":3.19,"y":1.14,"c":"high"},{"x":2.99,"y":1.05,"c":"high"},{"x":3.09,"y":0.91,"c":"high"},{"x":3.04,"y":0.82,"c":"high"},{"x":3.12,"y":0.80,"c":"high"},{"x":3.01,"y":0.93,"c":"high"},{"x":3.17,"y":0.93,"c":"high"},{"x":3.22,"y":0.99,"c":"high"},{"x":2.97,"y":0.67,"c":"high"},{"x":3.11,"y":0.69,"c":"high"},{"x":3.04,"y":0.59,"c":"high"},
{"x":1.34,"y":3.16,"c":"high"},{"x":1.38,"y":3.16,"c":"high"},{"x":1.42,"y":3.16,"c":"high"},{"x":1.46,"y":3.16,"c":"high"},{"x":1.50,"y":3.16,"c":"high"},
{"x":1.26,"y":3.12,"c":"high"},{"x":1.30,"y":3.12,"c":"high"},{"x":1.34,"y":3.12,"c":"high"},{"x":1.38,"y":3.12,"c":"high"},{"x":1.42,"y":3.12,"c":"high"},{"x":1.46,"y":3.12,"c":"high"},{"x":1.50,"y":3.12,"c":"high"},{"x":1.54,"y":3.12,"c":"high"},
{"x":1.22,"y":3.08,"c":"high"},{"x":1.26,"y":3.08,"c":"high"},{"x":1.30,"y":3.08,"c":"high"},{"x":1.34,"y":3.08,"c":"high"},{"x":1.38,"y":3.08,"c":"high"},{"x":1.42,"y":3.08,"c":"high"},{"x":1.46,"y":3.08,"c":"high"},{"x":1.50,"y":3.08,"c":"high"},{"x":1.54,"y":3.08,"c":"high"},{"x":1.58,"y":3.08,"c":"high"},
{"x":1.22,"y":3.04,"c":"high"},{"x":1.26,"y":3.04,"c":"high"},{"x":1.30,"y":3.04,"c":"high"},{"x":1.34,"y":3.04,"c":"high"},{"x":1.38,"y":3.04,"c":"high"},{"x":1.42,"y":3.04,"c":"high"},{"x":1.46,"y":3.04,"c":"high"},{"x":1.50,"y":3.04,"c":"high"},{"x":1.54,"y":3.04,"c":"high"},{"x":1.58,"y":3.04,"c":"high"},
{"x":1.22,"y":3.00,"c":"high"},{"x":1.26,"y":3.00,"c":"high"},{"x":1.30,"y":3.00,"c":"high"},{"x":1.34,"y":3.00,"c":"high"},{"x":1.38,"y":3.00,"c":"high"},{"x":1.42,"y":3.00,"c":"high"},{"x":1.46,"y":3.00,"c":"high"},{"x":1.50,"y":3.00,"c":"high"},{"x":1.54,"y":3.00,"c":"high"},{"x":1.58,"y":3.00,"c":"high"},{"x":1.62,"y":3.00,"c":"high"},
{"x":1.22,"y":2.96,"c":"high"},{"x":1.26,"y":2.96,"c":"high"},{"x":1.30,"y":2.96,"c":"high"},{"x":1.34,"y":2.96,"c":"high"},{"x":1.38,"y":2.96,"c":"high"},{"x":1.42,"y":2.96,"c":"high"},{"x":1.46,"y":2.96,"c":"high"},{"x":1.50,"y":2.96,"c":"high"},{"x":1.54,"y":2.96,"c":"high"},{"x":1.58,"y":2.96,"c":"high"},
{"x":1.24,"y":2.92,"c":"high"},{"x":1.28,"y":2.92,"c":"high"},{"x":1.32,"y":2.92,"c":"high"},{"x":1.36,"y":2.92,"c":"high"},{"x":1.40,"y":2.92,"c":"high"},{"x":1.44,"y":2.92,"c":"high"},{"x":1.48,"y":2.92,"c":"high"},{"x":1.52,"y":2.92,"c":"high"},{"x":1.56,"y":2.92,"c":"high"},{"x":1.60,"y":2.92,"c":"high"},
{"x":1.28,"y":2.88,"c":"high"},{"x":1.32,"y":2.88,"c":"high"},{"x":1.36,"y":2.88,"c":"high"},{"x":1.40,"y":2.88,"c":"high"},{"x":1.44,"y":2.88,"c":"high"},{"x":1.48,"y":2.88,"c":"high"},{"x":1.52,"y":2.88,"c":"high"},{"x":1.56,"y":2.88,"c":"high"},
{"x":1.36,"y":2.84,"c":"high"},{"x":1.40,"y":2.84,"c":"high"},{"x":1.44,"y":2.84,"c":"high"},{"x":1.48,"y":2.84,"c":"high"},{"x":1.52,"y":2.84,"c":"high"},
{"x":1.34,"y":3.02,"c":"peak"},{"x":1.44,"y":3.02,"c":"peak"},{"x":1.44,"y":2.96,"c":"peak"}
]},
"layer":[
{"data":{"name":"points"},"mark":{"type":"square","size":25,"opacity":1},
"encoding":{
"x":{"field":"x","type":"quantitative","scale":{"domain":[0,4],"nice":false,"zero":false},
 "axis":{"title":"Phalloidin binding","titleFont":"Liberation Sans","titleFontSize":16,"titleFontWeight":"normal","titleColor":"#444","titlePadding":1,"grid":false,"domainColor":"#444","domainWidth":1.5,"tickColor":"#444","tickWidth":1.2,"tickSize":5,"labelFont":"Liberation Sans","labelFontSize":15,"labelColor":"#555","labelAlign":"left","labelPadding":4,"labelOverlap":false,"labelFlush":false,
 "values":[0,1,2,3,4],
 "labelExpr":"'10'+['⁰','¹','²','³','⁴'][datum.value]"}},
"y":{"field":"y","type":"quantitative","scale":{"domain":[0,4],"nice":false,"zero":false},
 "axis":{"title":"CD11b","titleFont":"Liberation Sans","titleFontSize":16,"titleFontWeight":"normal","titleColor":"#444","titlePadding":7,"grid":false,"domainColor":"#444","domainWidth":1.5,"tickColor":"#444","tickWidth":1.2,"tickSize":5,"labelFont":"Liberation Sans","labelFontSize":15,"labelColor":"#555","labelAngle":270,"labelAlign":"left","labelBaseline":"bottom","labelPadding":3,"labelOverlap":false,"labelFlush":false,
 "values":[0,1,2,3,4],
 "labelExpr":"'10'+['⁰','¹','²','³','⁴'][datum.value]"}},
"color":{"field":"c","type":"nominal","legend":null,"scale":{"domain":["low","mid","high","peak"],"range":["#124a92","#2fb2d8","#8fb97a","#d2562c"]}}}},
{"data":{"name":"minor"},"mark":{"type":"tick","orient":"vertical","color":"#444","size":5,"thickness":1.2},
"encoding":{"x":{"field":"v","type":"quantitative"},"y":{"datum":0,"type":"quantitative"}}},
{"data":{"name":"minor"},"mark":{"type":"tick","orient":"horizontal","color":"#444","size":5,"thickness":1.2},
"encoding":{"y":{"field":"v","type":"quantitative"},"x":{"datum":0,"type":"quantitative"}}},
{"data":{"name":"gates"},"mark":{"type":"line","color":"#333","strokeWidth":1.5,"interpolate":"linear"},
"encoding":{"x":{"field":"x","type":"quantitative"},"y":{"field":"y","type":"quantitative"},"detail":{"field":"g"},"order":{"field":"o","type":"quantitative"}}},
{"data":{"name":"labels"},"mark":{"type":"text","font":"Liberation Serif","fontSize":17.5,"color":"#333","align":"center","baseline":"middle"},
"encoding":{"x":{"field":"x","type":"quantitative"},"y":{"field":"y","type":"quantitative"},"text":{"field":"t"}}}
]}
